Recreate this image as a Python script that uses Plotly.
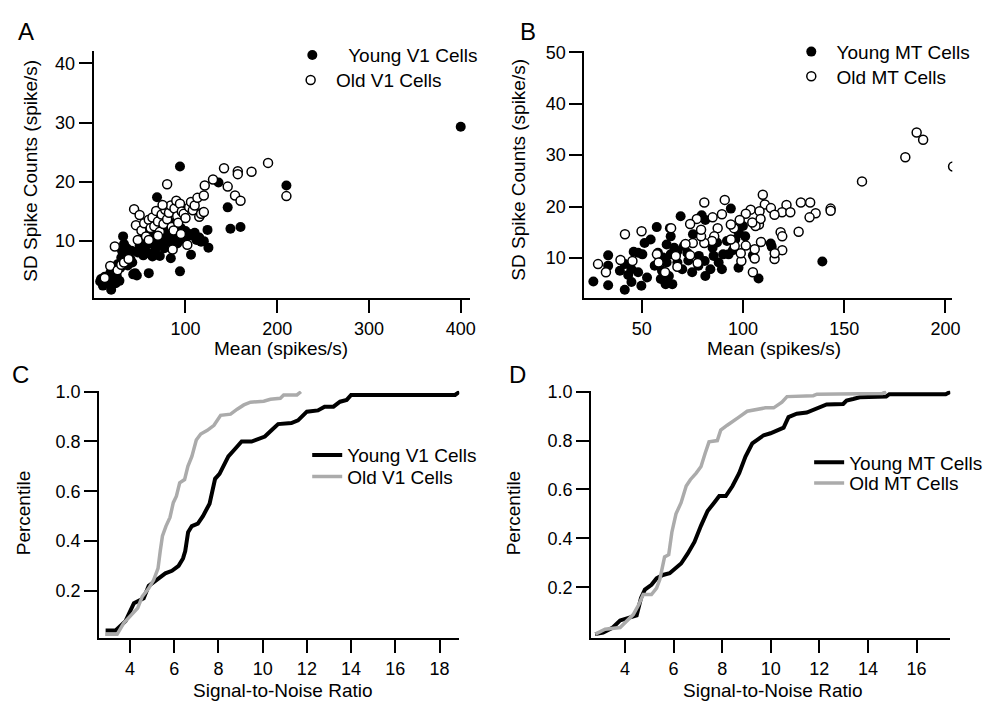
import plotly.graph_objects as go

W, H = 995, 703
FONT = "Liberation Sans, Arial, sans-serif"

# ---------------- Data ----------------
young_v1_mean = [7,8,10,12,15,18,19,20,22,24,25,26,28,29,30,31,32,33,34,35,36,37,38,40,41,42,43,45,47,
                 48,50,52,54,55,56,58,59,60,60,62,63,64,65,66,67,68,69,70,71,72,73,74,75,76,77,78,79,80,81,
                 82,83,84,85,86,87,88,89,90,91,92,93,94,94,95,96,97,98,100,102,104,106,108,110,112,115,117,
                 118,120,124,125,136,146,149,160,210,400]
young_v1_sd = [3.2,3.6,2.5,4.0,3.0,4.6,1.8,3.4,5.2,2.9,4.2,6.1,3.3,5.5,7.2,8.3,10.8,9.5,6.8,7.5,8.8,5.9,7.8,7.0,8.4,6.4,4.4,4.6,4.2,
               8.1,9.2,10.1,7.6,11.4,9.0,12.3,8.0,10.5,4.6,11.8,9.6,7.4,12.8,10.2,8.6,11.0,17.4,9.3,12.1,7.5,10.8,11.5,9.8,12.4,8.8,10.3,11.2,9.5,12.0,
               10.6,11.3,7.1,9.9,11.0,12.6,10.1,13.2,11.4,9.6,15.8,10.9,22.6,4.9,12.2,11.5,15.1,10.3,11.7,10.8,11.2,7.7,10.9,11.4,10.2,10.6,9.9,
               14.8,10.0,11.9,8.9,19.9,15.7,12.1,12.4,19.4,29.3]

old_v1_mean = [12,18,23,26,30,33,38,44,46,48,50,52,55,57,60,62,64,66,68,70,72,74,76,78,80,80,82,84,85,86,
               88,90,91,92,94,96,98,100,102,104,106,108,110,113,115,117,120,120,121,130,142,146,154,157,157,
               160,172,190,210,60,70,75,87,95]
old_v1_sd = [3.8,5.8,9.1,5.1,6.0,6.4,7.0,15.4,12.7,10.2,14.4,11.8,13.0,10.8,13.6,12.2,14.0,12.5,15.1,13.3,
             11.6,14.5,12.9,15.3,19.6,13.7,14.8,16.0,12.4,8.6,15.5,16.8,14.2,13.1,16.3,15.0,14.6,13.9,9.4,15.7,
             16.6,15.2,16.0,17.3,14.1,14.6,17.7,14.9,19.4,20.4,22.3,19.2,17.7,21.8,21.3,16.8,21.7,23.2,17.6,10.2,
             10.9,16.1,11.8,11.2]

young_mt_mean = [139.2,94,69.2,57.4,63.9,79.6,81.4,75.3,54.4,51.4,50.3,48.2,46,41.6,39.2,33.4,33.4,26.1,33.4,41.6,
                 44.9,49.8,52.6,48.2,44.9,43.3,56.4,59.4,61.8,65.1,63.4,62.3,64.3,62.3,64.3,67.6,67.6,70,72.5,74.9,
                 78.2,81.1,81.4,83.9,85.5,88,89.6,90.2,92.9,92.1,96.2,97.8,101.1,100,104.9,107.7,113.7,114.2,87.2,58,
                 60.5,70.8,66,60,95,78,85,98,73]
young_mt_sd = [9.3,19.6,18.1,16.0,15.8,18.3,17.4,14.6,13.6,12.9,10.7,11.0,11.2,8.8,7.5,8.5,10.5,5.4,4.7,3.8,
               5.3,4.6,6.2,7.2,7.8,6.7,8.5,5.9,4.9,4.9,6.5,9.1,10.7,12.6,14.2,11.3,9.1,7.8,11.0,7.2,
               10.4,9.4,6.5,7.8,10.4,9.1,7.8,10.7,10.7,13.3,13.6,8.1,14.2,16.2,10.5,6.0,12.8,12.2,13.0,11.0,
               10.1,12.3,12.0,7.5,11.5,8.5,12,14.8,9.5]

old_mt_mean = [185.8,189,180.2,203.8,158.8,143.3,143.3,128.6,133.2,135.9,132.9,127.5,121.5,119.3,123.4,109.8,110.8,113.8,115.6,103.8,
               101.4,108.2,91,80.9,89.6,85,77.2,73.9,49.9,41.7,64.5,28.4,32.3,39.5,104.9,118.6,119.4,115.6,119.4,115.7,
               108.9,105.8,105.8,99.2,101.4,98.9,95.9,94,95.6,94,87.5,85.8,84.7,80.9,79.3,79.3,75.2,71.6,73.9,77.6,
               66.8,67.6,57.5,61.5,45.4,58.3,107.9,108.7,106.2,104.6,98.4]
old_mt_sd = [34.4,33.0,29.6,27.8,24.9,19.6,19.2,20.8,20.8,18.7,17.9,15.1,20.3,18.9,18.9,22.3,20.4,19.7,18.4,19.4,
             18.6,19.1,21.3,20.8,18.5,17.9,17.6,16.6,15.2,14.6,15.8,8.8,7.2,9.6,7.2,15,14.2,9.8,11.5,10.9,
             13.1,11.7,9.9,9.4,12.4,10.9,12.3,13.6,15.8,16.5,15.8,14.2,13.3,12.9,14.2,15.5,12.9,12.7,10.5,9.0,
             10.4,8.3,10.7,7.2,9.4,9.1,16.5,17.6,16.2,16.9,17.4]

young_v1_snr = [2.9,3.35,3.8,4.18,4.62,4.85,5.15,5.6,5.9,6.2,6.4,6.5,6.63,6.8,7.07,7.3,7.6,7.85,8.05,8.3,8.45,8.75,
                9.05,9.5,9.8,10.1,10.4,10.7,11.3,11.6,12.0,12.5,12.8,13.2,13.5,13.8,14.0,18.7,18.9]
young_v1_pct = [0.04,0.04,0.078,0.15,0.17,0.22,0.24,0.27,0.28,0.30,0.33,0.36,0.435,0.46,0.47,0.50,0.55,0.65,0.67,0.71,0.74,0.77,
                0.80,0.80,0.81,0.82,0.845,0.87,0.874,0.885,0.92,0.925,0.94,0.94,0.96,0.967,0.987,0.987,1.0]

old_v1_snr = [2.88,3.42,3.72,4.0,4.35,4.56,4.85,5.07,5.27,5.37,5.47,5.63,5.81,5.96,6.1,6.25,6.47,6.62,6.8,7.0,7.2,7.5,
              7.8,8.1,8.55,8.85,9.15,9.45,10.05,10.35,10.8,10.95,11.55,11.73]
old_v1_pct = [0.025,0.025,0.07,0.098,0.13,0.177,0.21,0.243,0.29,0.36,0.42,0.46,0.495,0.554,0.58,0.634,0.647,0.70,0.74,0.806,0.83,0.845,
              0.865,0.905,0.91,0.93,0.947,0.958,0.962,0.97,0.974,0.987,0.987,1.0]

young_mt_snr = [2.77,3.1,3.5,3.8,4.48,4.66,4.82,5.09,5.3,5.56,5.84,6.1,6.31,6.58,6.86,7.13,7.4,7.67,7.88,8.15,8.42,8.7,
                8.96,9.24,9.44,9.71,9.99,10.26,10.53,10.73,11.07,11.48,11.75,12.03,12.3,12.98,13.12,13.39,13.66,14.75,14.88,17.2,17.4]
young_mt_pct = [0.008,0.014,0.035,0.064,0.085,0.156,0.19,0.21,0.236,0.25,0.257,0.277,0.297,0.337,0.385,0.452,0.512,0.546,0.573,0.573,0.613,0.667,
                0.735,0.789,0.805,0.822,0.83,0.843,0.853,0.896,0.91,0.915,0.926,0.934,0.948,0.95,0.964,0.97,0.977,0.98,0.99,0.99,1.0]

old_mt_snr = [2.78,3.18,3.8,4.0,4.34,4.57,4.75,5.09,5.3,5.43,5.54,5.63,5.8,5.93,6.1,6.31,6.52,6.69,6.93,7.13,7.3,7.46,
              7.8,7.94,8.21,8.42,8.69,9.03,9.44,9.78,10.12,10.46,10.67,11.75,11.9,14.6,14.75]
old_mt_pct = [0.008,0.028,0.035,0.055,0.088,0.129,0.17,0.17,0.196,0.23,0.29,0.324,0.333,0.425,0.5,0.546,0.614,0.64,0.667,0.694,0.748,0.795,
              0.80,0.843,0.863,0.876,0.896,0.92,0.926,0.934,0.934,0.957,0.98,0.984,0.99,0.993,1.0]

# ---------------- Helpers (pixel -> paper) ----------------
def px(x):
    return x / W

def py(y):
    return 1 - y / H

NB = "\u00a0"
fig = go.Figure()

filled = dict(color="black", size=10, line=dict(width=0))
hollow = dict(color="white", size=9, line=dict(color="black", width=1.5))

fig.add_trace(go.Scatter(x=young_v1_mean, y=young_v1_sd, mode="markers", marker=filled,
                         name=NB * 3 + "Young V1 Cells", xaxis="x", yaxis="y", legend="legend"))
fig.add_trace(go.Scatter(x=old_v1_mean, y=old_v1_sd, mode="markers", marker=hollow,
                         name=NB + "Old V1 Cells", xaxis="x", yaxis="y", legend="legend2"))
fig.add_trace(go.Scatter(x=young_mt_mean, y=young_mt_sd, mode="markers", marker=filled,
                         name=NB + "Young MT Cells", xaxis="x2", yaxis="y2", legend="legend3"))
fig.add_trace(go.Scatter(x=old_mt_mean, y=old_mt_sd, mode="markers", marker=hollow,
                         name=NB + "Old MT Cells", xaxis="x2", yaxis="y2", legend="legend4"))

BLACK_LINE = dict(color="black", width=4)
GRAY_LINE = dict(color="#ababab", width=3.5)
fig.add_trace(go.Scatter(x=young_v1_snr, y=young_v1_pct, mode="lines", line=BLACK_LINE,
                         name="Young V1 Cells", xaxis="x3", yaxis="y3", legend="legend5"))
fig.add_trace(go.Scatter(x=old_v1_snr, y=old_v1_pct, mode="lines", line=GRAY_LINE,
                         name="Old V1 Cells", xaxis="x3", yaxis="y3", legend="legend6"))
fig.add_trace(go.Scatter(x=young_mt_snr, y=young_mt_pct, mode="lines", line=BLACK_LINE,
                         name="Young MT Cells", xaxis="x4", yaxis="y4", legend="legend7"))
fig.add_trace(go.Scatter(x=old_mt_snr, y=old_mt_pct, mode="lines", line=GRAY_LINE,
                         name="Old MT Cells", xaxis="x4", yaxis="y4", legend="legend8"))

tickfont = dict(family=FONT, size=18, color="black")
axis_common = dict(showgrid=False, zeroline=False, showline=True, linecolor="black", linewidth=2,
                   ticks="outside", ticklen=13, tickwidth=2, tickcolor="black", tickfont=tickfont,
                   fixedrange=True)

layout = dict(
    width=W, height=H, margin=dict(l=0, r=0, t=0, b=0),
    paper_bgcolor="white", plot_bgcolor="white", showlegend=True,
    font=dict(family=FONT, size=18, color="black"),
    xaxis=dict(domain=[px(94.5), px(473.7)], range=[0, 410], anchor="y",
               tickvals=[100, 200, 300, 400], **axis_common),
    yaxis=dict(domain=[py(293.2), py(43)], range=[0.333, 42], anchor="x",
               tickvals=[10, 20, 30, 40], **axis_common),
    xaxis2=dict(domain=[px(589), px(960)], range=[21.6, 203.4], anchor="y2",
                tickvals=[50, 100, 150, 200], **axis_common),
    yaxis2=dict(domain=[py(293.2), py(42.7)], range=[2.115, 50.25], anchor="x2",
                tickvals=[10, 20, 30, 40, 50], **axis_common),
    xaxis3=dict(domain=[px(100), px(463)], range=[2.61, 18.89], anchor="y3",
                tickvals=[4, 6, 8, 10, 12, 14, 16, 18], **axis_common),
    yaxis3=dict(domain=[py(637.3), py(386.7)], range=[0.0095, 1.004], anchor="x3",
                tickvals=[0.2, 0.4, 0.6, 0.8, 1.0], ticktext=["0.2", "0.4", "0.6", "0.8", "1.0"],
                **axis_common),
    xaxis4=dict(domain=[px(596), px(958)], range=[2.61, 17.39], anchor="y4",
                tickvals=[4, 6, 8, 10, 12, 14, 16], **axis_common),
    yaxis4=dict(domain=[py(637.3), py(386.7)], range=[-0.0085, 1.004], anchor="x4",
                tickvals=[0.2, 0.4, 0.6, 0.8, 1.0], ticktext=["0.2", "0.4", "0.6", "0.8", "1.0"],
                **axis_common),
)

legfont = dict(family=FONT, size=19, color="black")

def leg(xp, yp):
    return dict(x=px(xp), y=py(yp), xanchor="left", yanchor="middle", bgcolor="rgba(0,0,0,0)",
                borderwidth=0, font=legfont, itemclick=False, itemdoubleclick=False)

# target marker centre / text start -> legend box anchor (empirical offsets)
layout["legend"] = leg(311.7 - 17, 55.7 - 9)
layout["legend2"] = leg(310 - 17, 81 - 9)
layout["legend3"] = leg(810.7 - 13, 52.3 - 9)
layout["legend4"] = leg(810.7 - 13, 77.3 - 9)
layout["legend5"] = leg(346.7 - 37, 456 - 4)
layout["legend6"] = leg(346.7 - 37, 477.7 - 4)
layout["legend7"] = leg(851.7 - 36, 463.3 - 4)
layout["legend8"] = leg(851.7 - 36, 484.3 - 4)

annotations = []

def text(x, y, s, size=19, angle=0):
    annotations.append(dict(x=px(x), y=py(y), xref="paper", yref="paper", text=s, showarrow=False,
                            xanchor="center", yanchor="middle", textangle=angle,
                            font=dict(family=FONT, size=size, color="black")))

text(26, 23, "A", 24)
text(532, 23, "B", 24)
text(21, 370, "C", 24)
text(522, 370, "D", 24)
text(31, 164, "SD Spike Counts (spike/s)", 19, -90)
text(523, 163, "SD Spike Counts (spike/s)", 19, -90)
text(283, 344, "Mean (spikes/s)", 19)
text(780, 344, "Mean (spikes/s)", 19)
text(24, 510, "Percentile", 19, -90)
text(518, 510, "Percentile", 19, -90)
text(285.5, 690, "Signal-to-Noise Ratio", 19)
text(779.5, 690, "Signal-to-Noise Ratio", 19)
layout["annotations"] = annotations

fig.update_layout(**layout)
fig.write_html("out.html", config={"displayModeBar": False},
               post_script="document.body.style.margin='0';document.body.style.overflow='hidden';")
